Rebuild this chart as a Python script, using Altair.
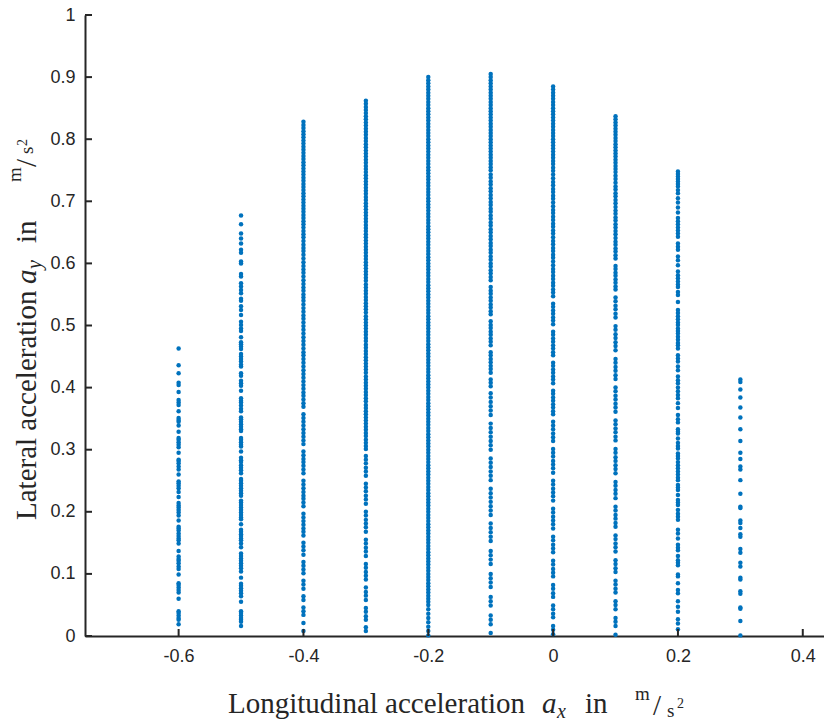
import altair as alt
import pandas as pd

# ---------------- data ----------------
x_columns = [-0.6, -0.5, -0.4, -0.3, -0.2, -0.1, 0.0, 0.1, 0.2, 0.3]

y_m06 = [0.463, 0.436, 0.423, 0.408, 0.404, 0.393, 0.380, 0.376, 0.372, 0.362,
         0.351, 0.348, 0.345, 0.339, 0.329, 0.319, 0.316, 0.312, 0.308, 0.304,
         0.295, 0.284, 0.282, 0.278, 0.273, 0.268, 0.260, 0.249, 0.246, 0.242,
         0.238, 0.232, 0.224, 0.214, 0.210, 0.207, 0.203, 0.199, 0.194, 0.186,
         0.176, 0.173, 0.170, 0.165, 0.161, 0.157, 0.154, 0.149, 0.137, 0.128,
         0.124, 0.121, 0.117, 0.112, 0.108, 0.099, 0.085, 0.082, 0.078, 0.074,
         0.070, 0.060, 0.040, 0.037, 0.033, 0.029, 0.026, 0.019]

y_m05 = [0.677, 0.663, 0.648, 0.640, 0.632, 0.622, 0.617, 0.603, 0.600, 0.583,
         0.579, 0.568, 0.563, 0.557, 0.552, 0.543, 0.540, 0.531, 0.525, 0.517,
         0.506, 0.501, 0.495, 0.491, 0.481, 0.473, 0.470, 0.466, 0.462, 0.454,
         0.450, 0.446, 0.442, 0.437, 0.434, 0.423, 0.419, 0.411, 0.407, 0.403,
         0.395, 0.383, 0.379, 0.376, 0.371, 0.366, 0.362, 0.352, 0.349, 0.345,
         0.341, 0.337, 0.333, 0.330, 0.319, 0.316, 0.312, 0.308, 0.305, 0.297,
         0.287, 0.283, 0.280, 0.275, 0.271, 0.267, 0.262, 0.253, 0.250, 0.246,
         0.242, 0.238, 0.234, 0.230, 0.226, 0.218, 0.215, 0.211, 0.207, 0.203,
         0.199, 0.195, 0.191, 0.188, 0.180, 0.171, 0.168, 0.164, 0.161, 0.157,
         0.154, 0.149, 0.143, 0.133, 0.129, 0.125, 0.121, 0.117, 0.113, 0.109,
         0.104, 0.094, 0.084, 0.081, 0.077, 0.073, 0.069, 0.064, 0.055, 0.040,
         0.037, 0.033, 0.029, 0.026, 0.023, 0.016]

y_m04 = [0.828, 0.823, 0.818, 0.813, 0.808, 0.803, 0.798, 0.793, 0.788, 0.783,
         0.778, 0.773, 0.768, 0.763, 0.758, 0.753, 0.748, 0.743, 0.738, 0.733,
         0.728, 0.723, 0.718, 0.713, 0.708, 0.703, 0.698, 0.693, 0.688, 0.683,
         0.678, 0.673, 0.668, 0.663, 0.658, 0.652,
         0.647, 0.642, 0.636, 0.630, 0.625, 0.620, 0.614, 0.608, 0.602, 0.596,
         0.590, 0.585, 0.579, 0.573, 0.567, 0.561, 0.556, 0.550, 0.545, 0.540,
         0.534, 0.528, 0.522, 0.516, 0.511, 0.505, 0.499, 0.493, 0.487, 0.481,
         0.475, 0.469, 0.463, 0.457, 0.452, 0.446, 0.440, 0.434, 0.428, 0.422,
         0.416, 0.410, 0.404, 0.398, 0.392, 0.387, 0.381, 0.375, 0.369, 0.357,
         0.351, 0.345, 0.339, 0.333, 0.327, 0.321, 0.315, 0.309, 0.297, 0.291,
         0.285, 0.280, 0.274, 0.268, 0.262, 0.250, 0.244, 0.238, 0.232, 0.226,
         0.221, 0.215, 0.209, 0.197, 0.191, 0.185, 0.179, 0.173, 0.168, 0.162,
         0.150, 0.144, 0.138, 0.131, 0.119, 0.113, 0.107, 0.101, 0.089, 0.083,
         0.076, 0.064, 0.058, 0.046, 0.040, 0.034, 0.021, 0.008]

y_m03 = [0.862, 0.857, 0.852, 0.847, 0.842, 0.837, 0.832, 0.827, 0.822, 0.817,
         0.812, 0.807, 0.802, 0.797, 0.792, 0.787, 0.782, 0.777, 0.772, 0.767,
         0.762, 0.757, 0.752, 0.747, 0.742, 0.737, 0.732, 0.727, 0.722, 0.717,
         0.712, 0.707, 0.702, 0.697, 0.692, 0.687, 0.682, 0.677, 0.672, 0.667,
         0.662, 0.657, 0.652, 0.647, 0.642, 0.637, 0.632, 0.627, 0.622, 0.617,
         0.612, 0.607, 0.602, 0.597, 0.592, 0.587, 0.582, 0.577, 0.572, 0.566,
         0.561, 0.556, 0.551, 0.546, 0.541, 0.536, 0.531, 0.526, 0.521, 0.515,
         0.510, 0.505, 0.500, 0.495, 0.490, 0.485, 0.480, 0.475, 0.469,
         0.464, 0.459, 0.454, 0.449, 0.444, 0.439, 0.434, 0.429, 0.424, 0.418,
         0.413, 0.408, 0.403, 0.398, 0.393, 0.388, 0.383, 0.378, 0.372,
         0.367, 0.362, 0.357, 0.352, 0.347, 0.342, 0.337, 0.332, 0.327, 0.322,
         0.316, 0.311, 0.306, 0.301,
         0.290, 0.284, 0.278, 0.271, 0.265, 0.258, 0.245, 0.239, 0.233, 0.226,
         0.220, 0.213, 0.200, 0.194, 0.187, 0.181, 0.175, 0.168, 0.155, 0.149,
         0.142, 0.136, 0.129, 0.116, 0.110, 0.103, 0.097, 0.091, 0.078, 0.071,
         0.065, 0.058, 0.045, 0.039, 0.032, 0.026, 0.014, 0.008]

y_m02 = [0.900, 0.895, 0.890, 0.885, 0.880, 0.875, 0.870, 0.865, 0.860, 0.855,
         0.850, 0.845, 0.840, 0.835, 0.830, 0.825, 0.820, 0.815, 0.810, 0.805,
         0.800, 0.795, 0.790, 0.785, 0.780, 0.775, 0.770, 0.765, 0.760, 0.755,
         0.750, 0.745, 0.740, 0.735, 0.730, 0.725, 0.720, 0.715, 0.710, 0.705,
         0.700, 0.695, 0.690, 0.685, 0.680, 0.675, 0.670, 0.665, 0.660, 0.655,
         0.650, 0.645, 0.640, 0.635, 0.630, 0.625, 0.620, 0.615, 0.610, 0.605,
         0.600, 0.595, 0.590, 0.585, 0.580, 0.575, 0.570, 0.565, 0.560, 0.555,
         0.550, 0.545, 0.540, 0.535, 0.530, 0.525, 0.520, 0.515, 0.510, 0.505,
         0.500, 0.495, 0.490, 0.485, 0.480, 0.475, 0.470, 0.465, 0.460, 0.455,
         0.450, 0.445, 0.440, 0.435, 0.430, 0.425, 0.420, 0.415, 0.410, 0.405,
         0.400, 0.395, 0.390, 0.385, 0.380, 0.375, 0.370, 0.365, 0.360, 0.355,
         0.350, 0.345, 0.340, 0.335, 0.330, 0.325, 0.320, 0.315, 0.310, 0.305,
         0.300, 0.295, 0.290, 0.285, 0.280, 0.275, 0.270, 0.265, 0.260, 0.255,
         0.250, 0.245, 0.240, 0.235, 0.230, 0.225, 0.220, 0.215, 0.210, 0.205,
         0.200, 0.195, 0.190, 0.185, 0.180, 0.175, 0.170, 0.165, 0.160, 0.155,
         0.150, 0.145, 0.140, 0.135, 0.130, 0.125, 0.120, 0.115, 0.110, 0.105,
         0.100, 0.095, 0.090, 0.085, 0.080, 0.075, 0.070, 0.065, 0.060, 0.055,
         0.050, 0.043, 0.036, 0.029, 0.022, 0.015, 0.008, 0.001]

y_m01 = [0.905, 0.900, 0.895, 0.890, 0.885, 0.880, 0.875, 0.870, 0.865, 0.860,
         0.855, 0.850, 0.845, 0.840, 0.835, 0.830, 0.825, 0.820, 0.815, 0.810,
         0.805, 0.800, 0.795, 0.790, 0.785, 0.780, 0.775, 0.770, 0.765, 0.760,
         0.755, 0.750,
         0.743, 0.738, 0.732, 0.727, 0.721, 0.716, 0.710, 0.705, 0.699, 0.694,
         0.688, 0.683, 0.677, 0.672, 0.666, 0.661, 0.655, 0.650, 0.644, 0.639,
         0.633, 0.628, 0.622, 0.617, 0.611, 0.606, 0.600, 0.595, 0.589, 0.584,
         0.578, 0.573, 0.562, 0.556, 0.551, 0.545, 0.540, 0.534, 0.529, 0.523,
         0.518, 0.507, 0.501, 0.496, 0.490, 0.485, 0.479, 0.474, 0.468,
         0.457, 0.452, 0.446, 0.441, 0.435, 0.430, 0.424, 0.413, 0.408, 0.402,
         0.391, 0.384, 0.377, 0.370, 0.363, 0.356, 0.342, 0.335, 0.328, 0.321,
         0.314, 0.307, 0.300, 0.286, 0.279, 0.272, 0.265, 0.258, 0.251,
         0.237, 0.230, 0.223, 0.216, 0.209, 0.202, 0.195, 0.181, 0.174, 0.167,
         0.160, 0.153, 0.137, 0.130, 0.123, 0.116, 0.100, 0.093, 0.086, 0.079,
         0.063, 0.056, 0.049, 0.033, 0.026, 0.019, 0.005]

y_00 = [0.885, 0.880, 0.875, 0.870, 0.865, 0.860, 0.855, 0.850, 0.845, 0.840,
        0.835, 0.830, 0.825, 0.820, 0.815, 0.810, 0.805, 0.800, 0.795, 0.790,
        0.785, 0.780, 0.775, 0.770,
        0.765, 0.760, 0.754, 0.749, 0.743, 0.737, 0.731, 0.726, 0.720, 0.715,
        0.709, 0.704, 0.698, 0.692, 0.686, 0.681, 0.675, 0.670, 0.664, 0.659,
        0.653, 0.648, 0.642, 0.636, 0.631, 0.625, 0.620, 0.614, 0.609, 0.603,
        0.597, 0.591, 0.586, 0.580, 0.575, 0.569, 0.564, 0.558, 0.553, 0.547,
        0.535, 0.530, 0.524, 0.519, 0.513, 0.508, 0.502, 0.490, 0.485, 0.479,
        0.474, 0.468, 0.463, 0.457, 0.452, 0.440, 0.435, 0.429, 0.424, 0.418,
        0.413, 0.407, 0.395, 0.390, 0.384, 0.379, 0.373, 0.368, 0.362, 0.357,
        0.345, 0.339, 0.333, 0.326, 0.320, 0.314, 0.301, 0.295, 0.289, 0.282,
        0.276, 0.270, 0.263, 0.250, 0.244, 0.237, 0.231, 0.225, 0.218, 0.205,
        0.199, 0.192, 0.186, 0.180, 0.173, 0.160, 0.154, 0.147, 0.141, 0.135,
        0.121, 0.115, 0.108, 0.102, 0.096, 0.082, 0.076, 0.069, 0.063, 0.049,
        0.043, 0.036, 0.030, 0.016, 0.010, 0.003]

y_p01 = [0.837, 0.832, 0.827, 0.822, 0.817, 0.812, 0.807, 0.802, 0.797, 0.792,
         0.787, 0.782, 0.777, 0.772, 0.767, 0.762, 0.757,
         0.752, 0.747, 0.741, 0.736, 0.730, 0.724, 0.719, 0.713, 0.708, 0.702,
         0.697, 0.691, 0.685, 0.680, 0.674, 0.669, 0.663, 0.658, 0.652, 0.647,
         0.641, 0.635, 0.630, 0.624, 0.619, 0.613, 0.608, 0.596, 0.591, 0.585,
         0.580, 0.574, 0.569, 0.563, 0.558,
         0.545, 0.539, 0.532, 0.526, 0.519, 0.513, 0.499, 0.493, 0.486, 0.480,
         0.473, 0.467, 0.460, 0.446, 0.440, 0.433, 0.427, 0.420, 0.414, 0.400,
         0.394, 0.387, 0.381, 0.374, 0.368, 0.361, 0.347, 0.341, 0.334, 0.328,
         0.321, 0.315, 0.301, 0.295, 0.288, 0.282, 0.275, 0.269, 0.262, 0.248,
         0.242, 0.235, 0.229, 0.222, 0.208, 0.202, 0.195, 0.189, 0.182, 0.176,
         0.162, 0.156, 0.149, 0.143, 0.136, 0.122, 0.116, 0.109, 0.103, 0.089,
         0.083, 0.076, 0.070, 0.056, 0.050, 0.043, 0.029, 0.023, 0.016, 0.002]

y_p02 = [0.748, 0.744, 0.740, 0.736, 0.732, 0.728, 0.724, 0.718, 0.713, 0.705,
         0.698, 0.690, 0.682, 0.673, 0.668, 0.663, 0.658, 0.653, 0.648, 0.643,
         0.632, 0.627, 0.622, 0.611, 0.605, 0.597, 0.587, 0.581, 0.576, 0.571,
         0.566, 0.562, 0.554, 0.549, 0.538, 0.525, 0.520, 0.515, 0.510, 0.505,
         0.501, 0.495, 0.491, 0.487, 0.482, 0.477, 0.472, 0.468, 0.463, 0.452,
         0.447, 0.442, 0.434, 0.428, 0.418, 0.412, 0.407, 0.400, 0.394, 0.388,
         0.383, 0.375, 0.367, 0.356, 0.349, 0.344, 0.333, 0.329, 0.326, 0.318,
         0.311, 0.306, 0.302, 0.294, 0.290, 0.286, 0.280, 0.275, 0.270, 0.265,
         0.260, 0.255, 0.251, 0.243, 0.239, 0.235, 0.227, 0.219, 0.215, 0.211,
         0.203, 0.197, 0.192, 0.187, 0.171, 0.165, 0.157, 0.147, 0.142, 0.138,
         0.129, 0.122, 0.118, 0.114, 0.099, 0.096, 0.085, 0.074, 0.069, 0.056,
         0.047, 0.039, 0.027, 0.020, 0.011]

y_p03 = [0.413, 0.409, 0.397, 0.384, 0.368, 0.352, 0.333, 0.314, 0.295, 0.285,
         0.273, 0.268, 0.251, 0.229, 0.208, 0.206, 0.186, 0.182, 0.174, 0.164,
         0.160, 0.140, 0.134, 0.118, 0.112, 0.094, 0.091, 0.072, 0.068, 0.046,
         0.044, 0.024, 0.001]

x_tick_values = [-0.6, -0.4, -0.2, 0, 0.2, 0.4]
y_tick_values = [0, 0.1, 0.2, 0.3, 0.4, 0.5, 0.6, 0.7, 0.8, 0.9, 1]

columns = [y_m06, y_m05, y_m04, y_m03, y_m02, y_m01, y_00, y_p01, y_p02, y_p03]
rows = []
for xv, col in zip(x_columns, columns):
    for yv in col:
        rows.append({"ax": xv, "ay": yv})
df = pd.DataFrame(rows)

# ---------------- styling ----------------
W, H = 739, 621
AXC = "#262626"
BLUE = "#0072BD"
LABEL_FONT = "Liberation Sans"
TITLE_FONT = "Liberation Serif"

xscale = alt.Scale(domain=[-0.75, 0.434], nice=False, zero=False)
yscale = alt.Scale(domain=[0, 1], nice=False, zero=False)

common_axis = dict(grid=False, ticks=False, domain=True, domainColor=AXC,
                   domainWidth=2, labelFont=LABEL_FONT, labelFontSize=18,
                   labelColor=AXC, labelExpr="'' + datum.value", title=None)
x_axis = alt.Axis(values=x_tick_values, labelPadding=11, **common_axis)
y_axis = alt.Axis(values=y_tick_values, labelPadding=10, **common_axis)

points = alt.Chart(df).mark_circle(size=20, color=BLUE, opacity=1).encode(
    x=alt.X("ax:Q", scale=xscale, axis=x_axis),
    y=alt.Y("ay:Q", scale=yscale, axis=y_axis),
)

ytick_rules = alt.Chart(pd.DataFrame({"ay": y_tick_values})).mark_rule(
    color=AXC, strokeWidth=2).encode(
    y=alt.Y("ay:Q", scale=yscale, axis=y_axis),
    x=alt.value(0), x2=alt.value(7))

xtick_rules = alt.Chart(pd.DataFrame({"ax": x_tick_values})).mark_rule(
    color=AXC, strokeWidth=2).encode(
    x=alt.X("ax:Q", scale=xscale, axis=x_axis),
    y=alt.value(H), y2=alt.value(H - 7))


def piece(text, x, y, size, italic=False, angle=0):
    kw = dict(font=TITLE_FONT, fontSize=size, color=AXC, align="left",
              baseline="alphabetic")
    if italic:
        kw["fontStyle"] = "italic"
    if angle:
        kw["angle"] = angle
    return alt.Chart(pd.DataFrame({"t": [text]})).mark_text(**kw).encode(
        x=alt.value(x), y=alt.value(y), text="t:N")


# x-axis title: "Longitudinal acceleration a_x in m/s^2"
xt = [
    piece("Longitudinal acceleration", 143, 698, 29),
    piece("a", 457, 698, 29, italic=True),
    piece("x", 472, 703, 20, italic=True),
    piece("in", 500, 698, 29),
    piece("m", 550, 685, 19),
    piece("/", 568, 700, 29),
    piece("s", 582, 702, 19),
    piece("2", 592, 693, 14),
]

# y-axis title: "Lateral acceleration a_y in m/s^2"
yt = [
    piece("Lateral acceleration", -49, 505, 29, angle=270),
    piece("a", -49, 269, 29, italic=True, angle=270),
    piece("y", -44, 254, 20, italic=True, angle=270),
    piece("in", -49, 228, 29, angle=270),
    piece("m", -64, 167, 19, angle=270),
    piece("/", -49, 152, 29, angle=270),
    piece("s", -52, 139, 19, angle=270),
    piece("2", -58, 131, 14, angle=270),
]

chart = alt.layer(points, ytick_rules, xtick_rules, *xt, *yt).properties(
    width=W, height=H,
    autosize=alt.AutoSizeParams(type="none"),
    padding={"left": 85, "top": 15, "right": 0, "bottom": 86},
).configure_view(stroke=None)

chart.save("out.html", embed_options={"renderer": "svg", "actions": False})
